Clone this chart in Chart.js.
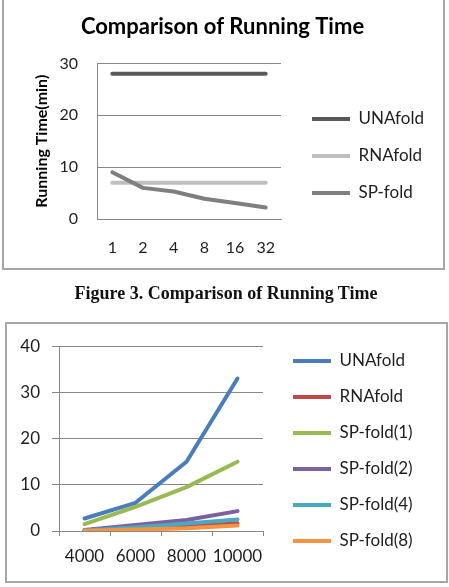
<!DOCTYPE html>
<html>
<head>
<meta charset="utf-8">
<script src="https://cdn.jsdelivr.net/npm/chart.js@4.4.1/dist/chart.umd.min.js"></script>
<style>
  html, body { margin: 0; padding: 0; background: #fff; width: 449px; height: 587px; overflow: hidden; }
  .frame { position: absolute; border: 2px solid #a6a6a6; box-sizing: border-box; }
  canvas { position: absolute; left: 0; }
  #caption { position: absolute; left: 0; width: 452px; top: 282px; height: 22px; line-height: 22px;
    text-align: center; font-family: "Liberation Serif", "Times New Roman", serif; font-weight: bold; font-size: 18px; color: #111; }
</style>
</head>
<body>
<div class="frame" style="left:2px; top:-4px; width:443px; height:274px;"></div>
<div class="frame" style="left:5px; top:322px; width:443px; height:261px;"></div>
<canvas id="c1" width="449" height="312" style="top:0px;"></canvas>
<div id="caption">Figure 3. Comparison of Running Time</div>
<canvas id="c2" width="449" height="254" style="top:324px;"></canvas>
<script>
// ---- Data: chart 1 (Comparison of Running Time) ----
const threadLabels = ['1', '2', '4', '8', '16', '32'];
const unafoldTime = [28, 28, 28, 28, 28, 28];
const rnafoldTime = [7, 7, 7, 7, 7, 7];
const spfoldTime = [9, 6, 5.3, 3.9, 3.1, 2.2];
const yTicks1 = [0, 10, 20, 30];

// ---- Data: chart 2 (sequence length) ----
const lengthLabels = ['4000', '6000', '8000', '10000'];
const unafold2 = [2.7, 6.1, 15, 33];
const rnafold2 = [0.1, 0.5, 1.0, 1.7];
const spfold1 = [1.5, 5.2, 9.5, 15];
const spfold2 = [0.2, 1.3, 2.4, 4.3];
const spfold4 = [0.1, 0.8, 1.6, 2.5];
const spfold8 = [0.05, 0.3, 0.6, 1.2];
const yTicks2 = [0, 10, 20, 30, 40];

Chart.defaults.font.family = 'Lato, "Open Sans", sans-serif';
Chart.defaults.color = '#1e1e1e';

const gridGray = '#888888';

function spacer(pos, weight, size) {
  return {
    type: 'linear', position: pos, weight: weight, display: true,
    grid: { display: false }, border: { display: false }, ticks: { display: false },
    afterFit(s) { if (pos === 'top' || pos === 'bottom') s.height = size; else s.width = size; }
  };
}
// right-hand filler whose width leaves exactly `room` px for the legend + itself
function filler(room) {
  return {
    type: 'linear', position: 'right', weight: 2000, display: true,
    grid: { display: false }, border: { display: false }, ticks: { display: false },
    afterFit(s) {
      const lg = s.chart.legend;
      const lw = lg ? lg.width : 0;
      s.width = Math.max(0, room - lw);
    }
  };
}
// let the legend's clip box reach the canvas edge so the label text is not cut
const widenLegend = {
  id: 'widenLegend',
  afterLayout(chart) {
    const lg = chart.legend;
    if (lg) { lg.right = chart.width; lg.width = lg.right - lg.left; }
  }
};

function lineSet(label, data, color, n, i) {
  return {
    label: label, data: data, borderColor: color, backgroundColor: color,
    borderWidth: 4, pointRadius: 0, pointHoverRadius: 0, tension: 0,
    borderCapStyle: 'round', borderJoinStyle: 'round', fill: false,
    order: n - i
  };
}

function legendOpts(pad) {
  return {
    display: true, position: 'right', align: 'center',
    labels: {
      usePointStyle: true, pointStyle: 'line', pointStyleWidth: 38,
      padding: pad, font: { size: 17 }, color: '#1e1e1e', textAlign: 'left',
      sort: (a, b) => a.datasetIndex - b.datasetIndex
    }
  };
}

// ---------- Chart 1 ----------
const ds1 = [
  ['UNAfold', unafoldTime, '#595959'],
  ['RNAfold', rnafoldTime, '#bfbfbf'],
  ['SP-fold', spfoldTime, '#7f7f7f']
].map((d, i, a) => lineSet(d[0], d[1], d[2], a.length, i));

new Chart(document.getElementById('c1'), {
  type: 'line',
  data: { labels: threadLabels, datasets: ds1 },
  plugins: [widenLegend],
  options: {
    responsive: false, animation: false, devicePixelRatio: 1,
    layout: { padding: { left: 0, right: 4, top: 0, bottom: 0 } },
    plugins: {
      tooltip: { enabled: false },
      title: {
        display: true, text: 'Comparison of Running Time', color: '#000',
        font: { size: 22, weight: 'bold' }, padding: { top: 14, bottom: 23 }
      },
      legend: legendOpts(20)
    },
    scales: {
      x: {
        type: 'category', offset: true,
        grid: { display: false },
        border: { display: true, color: gridGray, width: 1 },
        ticks: { padding: 11, font: { size: 16 }, color: '#1e1e1e', maxRotation: 0 },
        afterFit(s) { s.height = 93; }
      },
      y: {
        type: 'linear', position: 'left', min: 0, max: 30,
        afterBuildTicks(s) { s.ticks = yTicks1.map(v => ({ value: v })); },
        grid: { color: gridGray, drawTicks: false, lineWidth: 1 },
        border: { display: true, color: gridGray, width: 1 },
        ticks: { padding: 19, font: { size: 16 }, color: '#1e1e1e' },
        title: {
          display: true, text: 'Running Time(min)', color: '#000',
          font: { size: 16, weight: 'bold' }, padding: { top: 32, bottom: 0 }
        },
        afterFit(s) { s.width = 97; }
      },
      gapR: spacer('right', 0, 11),
      fillR: filler(153)
    }
  }
});

// ---------- Chart 2 ----------
const ds2 = [
  ['UNAfold', unafold2, '#4a7ebb'],
  ['RNAfold', rnafold2, '#be4b48'],
  ['SP-fold(1)', spfold1, '#98b954'],
  ['SP-fold(2)', spfold2, '#7d60a0'],
  ['SP-fold(4)', spfold4, '#46aac5'],
  ['SP-fold(8)', spfold8, '#f69240']
].map((d, i, a) => lineSet(d[0], d[1], d[2], a.length, i));

new Chart(document.getElementById('c2'), {
  type: 'line',
  data: { labels: lengthLabels, datasets: ds2 },
  plugins: [widenLegend],
  options: {
    responsive: false, animation: false, devicePixelRatio: 1,
    layout: { padding: 0 },
    plugins: {
      tooltip: { enabled: false },
      title: { display: false },
      legend: legendOpts(19)
    },
    scales: {
      x: {
        type: 'category', offset: true,
        grid: { display: true, drawOnChartArea: false, drawTicks: true, tickLength: 5, color: gridGray, offset: true },
        border: { display: true, color: gridGray, width: 1 },
        ticks: { padding: 10, font: { size: 17 }, color: '#1e1e1e', maxRotation: 0, autoSkip: false },
        afterFit(s) { s.height = 47; }
      },
      y: {
        type: 'linear', position: 'left', min: 0, max: 40,
        afterBuildTicks(s) { s.ticks = yTicks2.map(v => ({ value: v })); },
        grid: { color: gridGray, drawTicks: true, tickLength: 7, lineWidth: 1 },
        border: { display: true, color: gridGray, width: 1 },
        ticks: { padding: 12, font: { size: 17 }, color: '#1e1e1e' },
        afterFit(s) { s.width = 59; }
      },
      gapT: Object.assign(spacer('top', 0, 20), { type: 'category' }),
      gapR: spacer('right', 0, 11),
      fillR: filler(175)
    }
  }
});
</script>
</body>
</html>
